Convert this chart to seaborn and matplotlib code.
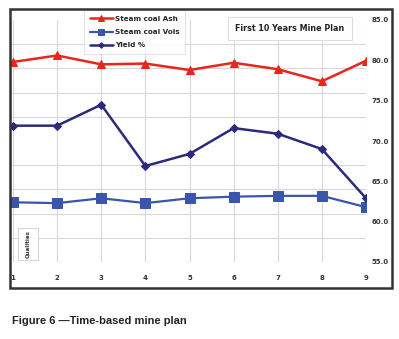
import matplotlib
matplotlib.use("Agg")
import matplotlib.pyplot as plt
import seaborn as sns
import pandas as pd
from matplotlib.patches import Rectangle
from matplotlib.ticker import FixedLocator, FormatStrFormatter

years = [1, 2, 3, 4, 5, 6, 7, 8, 9]
ash = [79.8, 80.6, 79.5, 79.6, 78.8, 79.7, 78.9, 77.4, 79.95]
vols = [62.4, 62.3, 62.9, 62.3, 62.9, 63.1, 63.2, 63.2, 61.8]
yield_pct = [71.9, 71.9, 74.5, 66.9, 68.4, 71.6, 70.9, 69.0, 62.9]
series_names = ["Steam coal Ash", "Steam coal Vols", "Yield %"]
y_ticks = [55, 60, 65, 70, 75, 80, 85]

sns.set_style("white")
W, H = 399, 339
fig = plt.figure(figsize=(W / 100, H / 100), dpi=100)
ax = fig.add_axes([10 / W, 1 - 262 / H, (366 - 10) / W, (262 - 20) / H])

styles = [
    (ash, "#E8261C", "^", 6.0, 1.8),
    (vols, "#3A55A9", "s", 6.5, 1.6),
    (yield_pct, "#2B2A7C", "D", 4.0, 1.8),
]
for name, (vals, col, mk, ms, lw) in zip(series_names, styles):
    df = pd.DataFrame({"x": years, "y": vals})
    sns.lineplot(data=df, x="x", y="y", ax=ax, color=col, marker=mk,
                 markersize=ms, markeredgecolor=col, linewidth=lw,
                 label=name, zorder=3)

ax.set_xlim(1 - 3 / 44, 9)
ax.set_ylim(55, 85)
for s in ax.spines.values():
    s.set_visible(False)
ax.set_xlabel("")
ax.set_ylabel("")
ax.yaxis.tick_right()
ax.set_yticks(y_ticks)
ax.yaxis.set_major_formatter(FormatStrFormatter("%.1f"))
ax.yaxis.set_minor_locator(FixedLocator([55 + 3 * k for k in range(11)]))
ax.set_xticks(years)
ax.grid(False)
ax.grid(True, which="minor", axis="y", color="#d8d8d8", linewidth=0.8)
ax.grid(True, which="major", axis="x", color="#d8d8d8", linewidth=0.8)
ax.tick_params(axis="y", which="both", length=0, pad=4, labelsize=5, labelcolor="#333333")
ax.tick_params(axis="x", which="both", length=0, pad=9, labelsize=5, labelcolor="#333333")
for t in ax.get_xticklabels() + ax.get_yticklabels():
    t.set_fontweight("bold")

leg = ax.legend(loc="upper left", bbox_to_anchor=(84 / W, 1 - 10 / H),
                bbox_transform=fig.transFigure, frameon=True, fancybox=False,
                prop={"size": 5.2, "weight": "bold"}, handlelength=3.2,
                borderpad=0.8, labelspacing=1.0, handletextpad=0.3,
                borderaxespad=0, markerscale=0.7)
leg.get_frame().set_edgecolor("#dddddd")
leg.get_frame().set_linewidth(0.8)

fig.text(290 / W, 1 - 28.5 / H, "First 10 Years Mine Plan", ha="center", va="center",
         fontsize=5.8, fontweight="bold", color="#222222",
         bbox=dict(boxstyle="square,pad=0.9", facecolor="white", edgecolor="#dddddd", linewidth=0.8))

fig.patches.append(Rectangle((18 / W, 1 - 260 / H), 20 / W, 32 / H,
                             transform=fig.transFigure, facecolor="white",
                             edgecolor="#cccccc", linewidth=0.6, zorder=5))
fig.text(28 / W, 1 - 244 / H, "Qualities", ha="center", va="center", rotation=90,
         fontsize=4, fontweight="bold", color="#333333", zorder=6)

fig.patches.append(Rectangle((10 / W, 1 - 288 / H), (392 - 10) / W, (288 - 9) / H,
                             transform=fig.transFigure, fill=False, edgecolor="#333333",
                             linewidth=1.8, zorder=10))

fig.text(12 / W, 1 - 321 / H, "Figure 6 \u2014Time-based mine plan", ha="left", va="center",
         fontsize=8, fontweight="bold", family="Liberation Sans", color="#222222")

fig.savefig("out.png", dpi=100)
